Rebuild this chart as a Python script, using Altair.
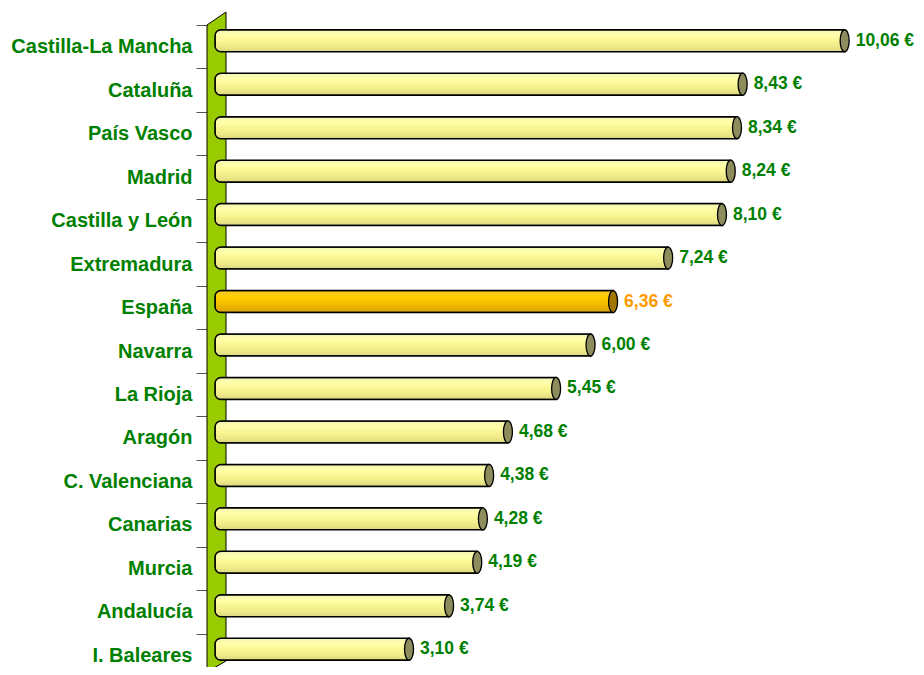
import altair as alt
import pandas as pd

regions = ["Castilla-La Mancha", "Cataluña", "País Vasco", "Madrid", "Castilla y León",
           "Extremadura", "España", "Navarra", "La Rioja", "Aragón", "C. Valenciana",
           "Canarias", "Murcia", "Andalucía", "I. Baleares"]
values = [10.06, 8.43, 8.34, 8.24, 8.10, 7.24, 6.36, 6.00, 5.45, 4.68, 4.38, 4.28, 4.19, 3.74, 3.10]
highlight = "España"

df = pd.DataFrame({"region": regions, "value": values})
df["label"] = [f"{v:.2f}".replace(".", ",") + " €" for v in values]
df["hl"] = df["region"] == highlight

FONT = "Liberation Sans"
GREEN = "#008000"
ORANGE = "#FF9900"

yellow_grad = {"gradient": "linear", "x1": 0, "y1": 0, "x2": 0, "y2": 1,
               "stops": [{"offset": 0, "color": "#F4F4B8"},
                         {"offset": 0.25, "color": "#FFFFA8"},
                         {"offset": 0.55, "color": "#F8F490"},
                         {"offset": 0.8, "color": "#ECE888"},
                         {"offset": 1, "color": "#DAD67C"}]}
orange_grad = {"gradient": "linear", "x1": 0, "y1": 0, "x2": 0, "y2": 1,
               "stops": [{"offset": 0, "color": "#F5C830"},
                         {"offset": 0.25, "color": "#FFD000"},
                         {"offset": 0.55, "color": "#F5C000"},
                         {"offset": 0.8, "color": "#E8B000"},
                         {"offset": 1, "color": "#D8A000"}]}

y_enc = alt.Y("region:N", sort=regions,
              scale=alt.Scale(range=[0, 652], paddingInner=0, paddingOuter=0),
              axis=alt.Axis(title=None, offset=8, tickSize=11, tickColor="#555555", tickWidth=1,
                            domainColor="#000000", domainWidth=1, labelFont=FONT,
                            labelFontWeight="bold", labelFontSize=20, labelColor=GREEN,
                            labelPadding=4, labelLimit=300, tickBand="extent"))
x_enc = alt.X("value:Q", scale=alt.Scale(domain=[0, 11.20], nice=False, zero=True), axis=None)

wall = alt.Chart(pd.DataFrame({"k": [0]})).mark_point(
    shape="M-8,0 L11,-13 L11,636 L-8,647 Z", size=4, filled=True,
    fill="#99CC00", stroke="#000000", strokeWidth=1, opacity=1, fillOpacity=1
).encode(x=alt.value(0), y=alt.value(0))

base = alt.Chart(df).encode(y=y_enc)

bars = base.mark_bar(size=22, yOffset=-6, cornerRadiusTopLeft=6, cornerRadiusBottomLeft=6,
                     stroke="#000000", strokeWidth=1.5).encode(
    x=x_enc,
    fill=alt.condition("datum.hl", alt.value(orange_grad), alt.value(yellow_grad)))

caps = base.mark_point(
    shape="M0,-11 A4.5,11 0 1,1 0,11 A4.5,11 0 1,1 0,-11 Z", size=4, filled=True,
    stroke="#000000", strokeWidth=1.3, opacity=1, fillOpacity=1, yOffset=-6
).encode(x=x_enc, fill=alt.condition("datum.hl", alt.value("#A07800"), alt.value("#8C8C5C")))

texts = base.mark_text(align="left", baseline="middle", dx=11, yOffset=-6, font=FONT,
                       fontWeight="bold", fontSize=17.5).encode(
    x=x_enc, text="label:N",
    color=alt.condition("datum.hl", alt.value(ORANGE), alt.value(GREEN)))

chart = alt.layer(wall, bars, caps, texts).properties(
    width=701, height=642,
    autosize=alt.AutoSizeParams(type="none"),
    padding={"left": 207, "top": 17, "right": 0, "bottom": 0},
    background="white"
).configure_view(stroke=None)

chart.save("out.html", embed_options={"renderer": "svg", "actions": False})
